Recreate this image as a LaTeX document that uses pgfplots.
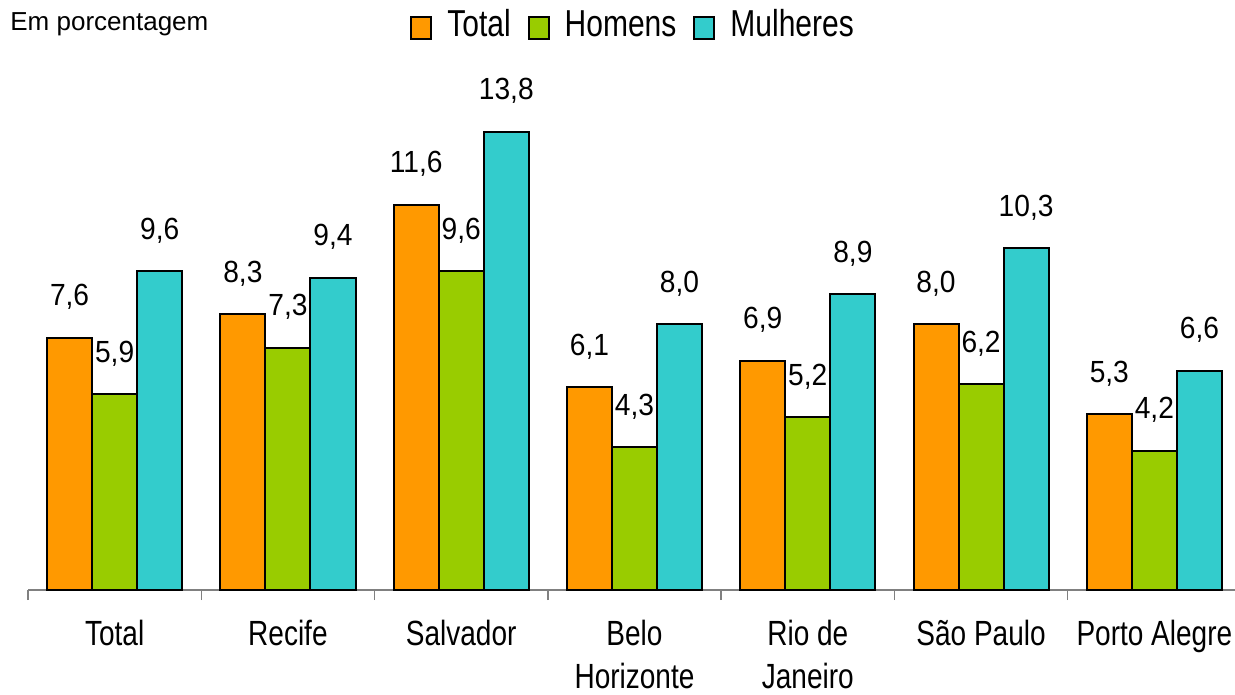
\documentclass[border=0pt]{standalone}
\usepackage{fontspec}
\setmainfont{Liberation Sans}
\newfontfamily\narrowfont{Liberation Sans}[FakeStretch=0.8]
\newfontfamily\labelfont{Liberation Sans}[FakeStretch=0.92]
\usepackage{pgfplots}
\usepackage{pgfplotstable}
\pgfplotsset{compat=1.18}

\definecolor{cTotal}{HTML}{FF9900}
\definecolor{cHomens}{HTML}{99CC00}
\definecolor{cMulheres}{HTML}{33CCCC}

\pgfplotstableread{
idx total homens mulheres
0 7.6 5.9 9.6
1 8.3 7.3 9.4
2 11.6 9.6 13.8
3 6.1 4.3 8.0
4 6.9 5.2 8.9
5 8.0 6.2 10.3
6 5.3 4.2 6.6
}\datatable

\pgfplotsset{
  mybar/.style={fill=#1, draw=black, line width=1pt,
    legend image code/.code={\draw[fill=#1, draw=black, line width=1pt] (0pt,-7pt) rectangle (10pt,4pt);}},
}

\begin{document}
\begin{tikzpicture}
\useasboundingbox (0,0) rectangle (617.5pt,347.5pt);
\node[anchor=base west, font=\fontsize{13pt}{15pt}\selectfont, inner sep=0pt] at (5pt,332pt) {Em porcentagem};
\begin{axis}[
  at={(14pt,52.5pt)}, anchor=south west,
  scale only axis,
  width=606.5pt, height=295pt,
  xmin=-0.5, xmax=6.5,
  ymin=0, ymax=17.77,
  clip=false,
  axis y line=none,
  axis x line*=bottom,
  x axis line style={draw=gray, line width=0.7pt, -},
  xtick={0,...,6},
  xticklabels={Total, Recife, Salvador, Belo\\Horizonte, Rio de\\Janeiro, São Paulo, Porto Alegre},
  x tick label style={font=\narrowfont\fontsize{17.5pt}{21.5pt}\selectfont, align=center, yshift=-11.5pt},
  major tick length=0pt,
  extra x ticks={-0.5,0.5,1.5,2.5,3.5,4.5,5.5},
  extra x tick labels={},
  extra x tick style={major tick length=5pt, tick align=outside, xtick style={draw=gray, line width=0.7pt}},
  ybar=0pt,
  bar width=0.26,
  nodes near coords,
  every node near coord/.append style={font=\labelfont\fontsize{15.3pt}{18pt}\selectfont, anchor=base, yshift=16pt, text=black},
  /pgf/number format/.cd, use comma, fixed, fixed zerofill, precision=1, assume math mode=true,
  /pgfplots/.cd,
  legend style={at={(0.498,0.958)}, anchor=center, draw=none, fill=none,
    font=\narrowfont\fontsize{18.75pt}{22pt}\selectfont,
    nodes={inner sep=0pt},
    /tikz/every odd column/.append style={column sep=7.5pt},
    /tikz/every even column/.append style={column sep=8.5pt}},
  legend columns=-1,
]
\addplot[mybar=cTotal] table[x=idx, y=total] {\datatable};
\addplot[mybar=cHomens] table[x=idx, y=homens] {\datatable};
\addplot[mybar=cMulheres] table[x=idx, y=mulheres] {\datatable};
\legend{Total, Homens, Mulheres}
\end{axis}
\end{tikzpicture}
\end{document}
